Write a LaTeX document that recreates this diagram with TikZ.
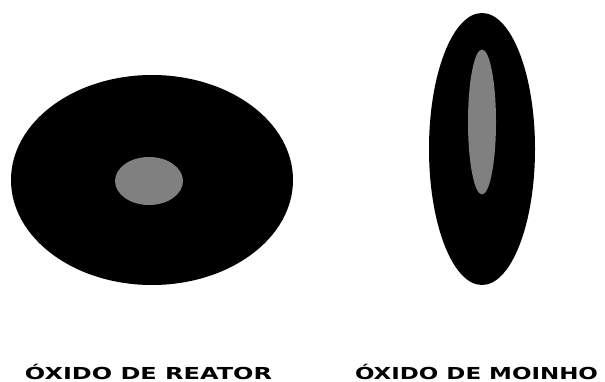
\documentclass[tikz,border=0pt]{standalone}
\usepackage{fontspec}
\usepackage{graphicx}
\setsansfont{DejaVu Sans}
\tikzset{
  blackoval/.style={fill=black},
  grayoval/.style={fill=midgray},
  caption/.style={anchor=base, inner sep=0pt, font=\sffamily\bfseries\fontsize{16.5}{18}\selectfont}
}
\definecolor{midgray}{HTML}{808080}
\begin{document}
\begin{tikzpicture}[x=1pt,y=-1pt]
\useasboundingbox (0,0) rectangle (605,382);
% reactor oxide
\fill[blackoval] (152,180) ellipse [x radius=141, y radius=105];
\fill[grayoval] (149,181) ellipse [x radius=34, y radius=24];
% mill oxide
\fill[blackoval] (482,149) ellipse [x radius=53, y radius=136];
\fill[grayoval] (482,122) ellipse [x radius=14, y radius=72.5];
% captions
\node[caption] (reator) at (148.5,379) {\resizebox{247pt}{\height}{ÓXIDO DE REATOR}};
\node[caption] (moinho) at (476.5,379) {\resizebox{243pt}{\height}{ÓXIDO DE MOINHO}};
\end{tikzpicture}
\end{document}
